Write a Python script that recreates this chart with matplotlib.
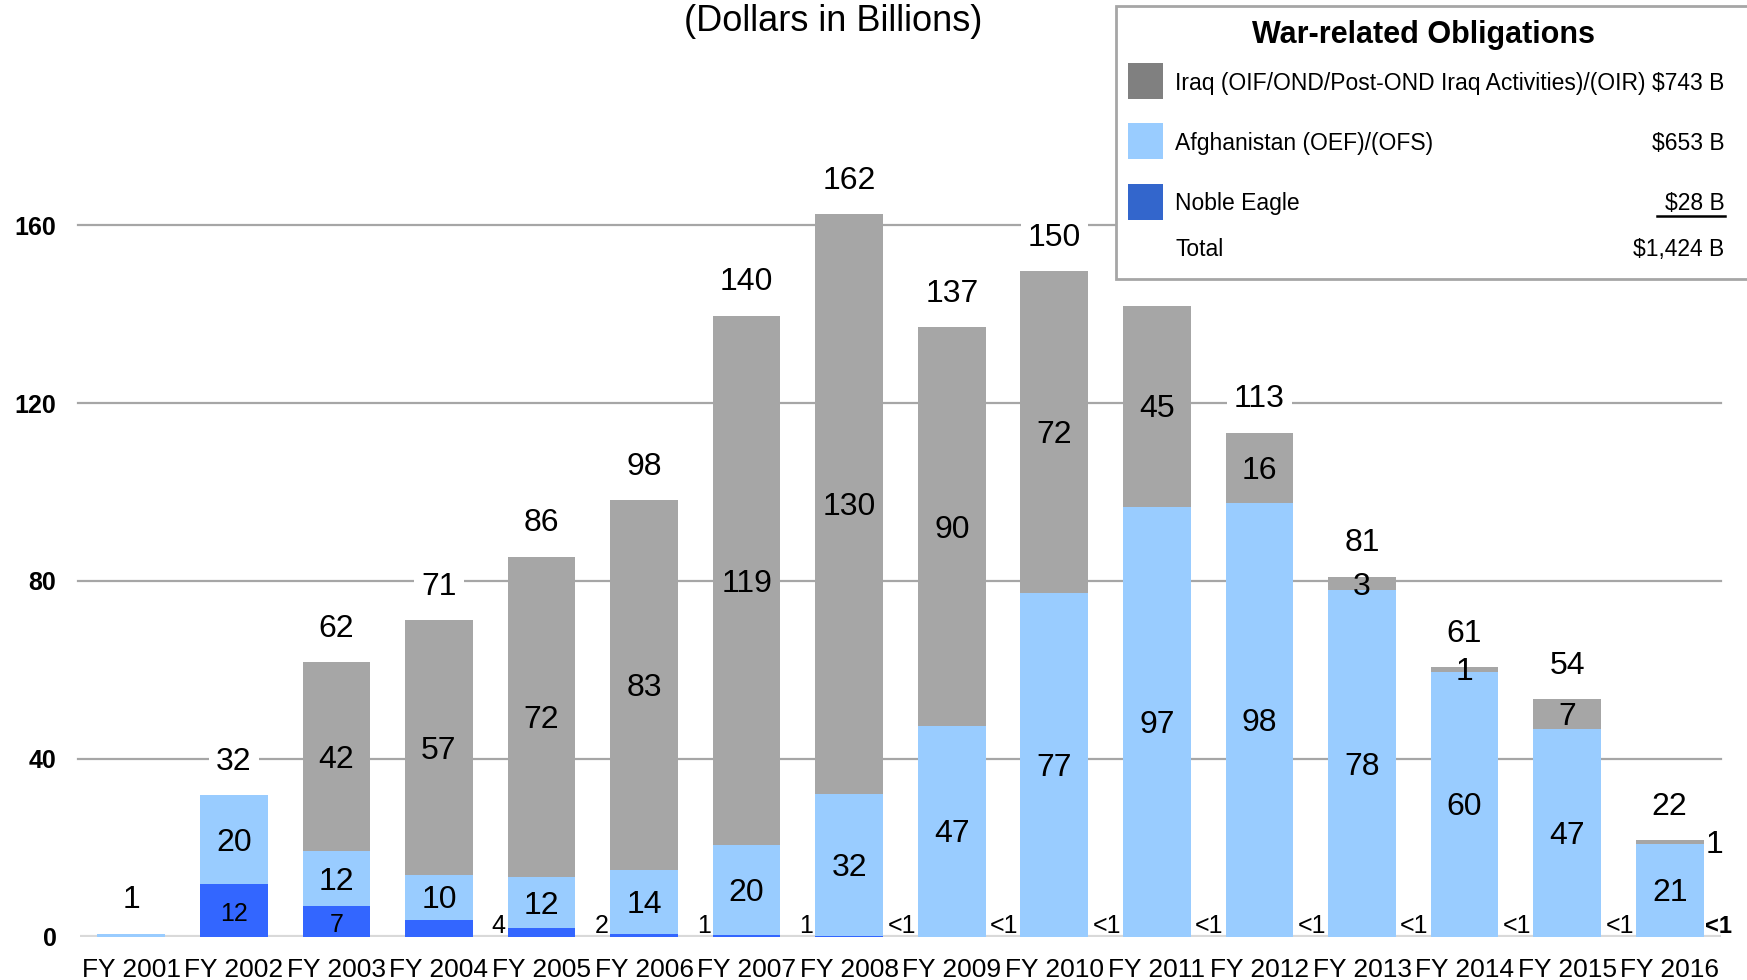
import matplotlib
matplotlib.use("Agg")
import matplotlib.pyplot as plt
from matplotlib import font_manager
from matplotlib.patches import Rectangle
from matplotlib.lines import Line2D
import numpy as np

# -----------------------
# data (dollars in billions)
years = ['FY 2001', 'FY 2002', 'FY 2003', 'FY 2004', 'FY 2005', 'FY 2006', 'FY 2007', 'FY 2008',
         'FY 2009', 'FY 2010', 'FY 2011', 'FY 2012', 'FY 2013', 'FY 2014', 'FY 2015', 'FY 2016']
noble_eagle = [0.0, 11.9, 7.0, 3.8, 2.0, 0.7, 0.5, 0.2, 0.1, 0.1, 0.1, 0.1, 0.1, 0.1, 0.1, 0.1]
afghanistan = [0.7, 19.9, 12.3, 10.2, 11.5, 14.3, 20.1, 31.9, 47.3, 77.1, 96.6, 97.4, 77.8, 59.5, 46.6, 20.8]
iraq = [0.0, 0.0, 42.4, 57.2, 72.0, 83.2, 119.0, 130.3, 89.7, 72.4, 45.2, 15.8, 3.1, 1.1, 6.8, 0.9]

total_labels = ['1', '32', '62', '71', '86', '98', '140', '162', '137', '150', '', '113', '81', '61', '54', '22']
ne_labels = ['', '12', '7', '4', '2', '1', '1', '<1', '<1', '<1', '<1', '<1', '<1', '<1', '<1', '<1']
afg_labels = ['', '20', '12', '10', '12', '14', '20', '32', '47', '77', '97', '98', '78', '60', '47', '21']
iraq_labels = ['', '', '42', '57', '72', '83', '119', '130', '90', '72', '45', '16', '3', '1', '7', '1']

legend_names = ['Iraq (OIF/OND/Post-OND Iraq Activities)/(OIR)', 'Afghanistan (OEF)/(OFS)', 'Noble Eagle']
legend_values = ['$743 B', '$653 B', '$28 B']
total_value = '$1,424 B'
# -----------------------

c_ne = '#3366FF'
c_afg = '#99CCFF'
c_iraq = '#A6A6A6'
leg_colors = ['#808080', '#99CCFF', '#3366CC']

names = {f.name for f in font_manager.fontManager.ttflist}
narrow = 'Liberation Sans Narrow' if 'Liberation Sans Narrow' in names else 'Liberation Sans'
leg_size = 20 if narrow == 'Liberation Sans Narrow' else 16.5
plt.rcParams['font.family'] = ['Liberation Sans', 'DejaVu Sans']

fig = plt.figure(figsize=(17.47, 9.80), dpi=100)
ax = fig.add_axes([0.0458, 0.0439, 0.9393, 0.8173])

x = np.arange(len(years))
ne = np.array(noble_eagle)
af = np.array(afghanistan)
iq = np.array(iraq)
w = 0.66

ax.bar(x, ne, width=w, color=c_ne, zorder=2)
ax.bar(x, af, width=w, bottom=ne, color=c_afg, zorder=2)
ax.bar(x, iq, width=w, bottom=ne + af, color=c_iraq, zorder=2)

ax.set_xlim(-0.5, 15.5)
ax.set_ylim(0, 180)
ax.set_yticks([0, 40, 80, 120, 160])
ax.set_yticklabels(['0', '40', '80', '120', '160'], fontsize=18, fontweight='bold')
ax.set_xticks(x)
ax.set_xticklabels(years, fontsize=19)
ax.tick_params(axis='y', length=0, pad=17)
ax.tick_params(axis='x', length=0, pad=15)
for s in ax.spines.values():
    s.set_visible(False)
for g in [40, 80, 120, 160]:
    ax.plot([-0.52, 15.5], [g, g], color='#A6A6A6', lw=1.6, zorder=1, clip_on=False)
ax.axhline(0, color='#D9D9D9', lw=3, zorder=1)

dy = -0.7  # nudge for text box centring
tops = ne + af + iq
for i in range(len(years)):
    # totals on top
    if total_labels[i]:
        ax.text(x[i], tops[i] + 7.5, total_labels[i], ha='center', va='center', fontsize=23,
                bbox=dict(facecolor='white', edgecolor='none', pad=5), zorder=3)
    # afghanistan
    if afg_labels[i]:
        ax.text(x[i], ne[i] + af[i] / 2 + dy, afg_labels[i], ha='center', va='center', fontsize=23, zorder=4)
    # iraq
    if iraq_labels[i]:
        if i == len(years) - 1:
            ax.text(x[i] + w / 2 + 0.02, ne[i] + af[i] + iq[i] / 2 - 0.6, iraq_labels[i],
                    ha='left', va='center', fontsize=23, zorder=4, clip_on=False)
        else:
            ax.text(x[i], ne[i] + af[i] + iq[i] / 2 + dy, iraq_labels[i], ha='center', va='center',
                    fontsize=23, zorder=4)
    # noble eagle
    if ne_labels[i]:
        if ne[i] > 6:
            ax.text(x[i], ne[i] / 2 + dy, ne_labels[i], ha='center', va='center', fontsize=18, zorder=4)
        elif i == len(years) - 1:
            ax.text(x[i] + w / 2 + 0.01, 1.0, ne_labels[i], ha='left', va='baseline', fontsize=17,
                    fontweight='bold', zorder=4, clip_on=False)
        else:
            ax.text(x[i] + 1 - w / 2 - 0.02, 1.0, ne_labels[i], ha='right', va='baseline',
                    fontsize=18, zorder=4)

fig.text(0.477, 0.978, '(Dollars in Billions)', ha='center', va='center', fontsize=26)

# legend box
fig.patches.append(Rectangle((0.639, 0.715), 0.38, 0.279, transform=fig.transFigure,
                             facecolor='white', edgecolor='#A6A6A6', lw=2, zorder=10))
fig.text(0.815, 0.964, 'War-related Obligations', ha='center', va='center', fontsize=22,
         fontweight='bold', zorder=11)
row_y = [0.915, 0.854, 0.792]
for name, val, col, yy in zip(legend_names, legend_values, leg_colors, row_y):
    fig.patches.append(Rectangle((0.6457, yy - 0.0165), 0.02, 0.037, transform=fig.transFigure,
                                 facecolor=col, edgecolor='none', zorder=11))
    fig.text(0.6726, yy, name, ha='left', va='center', fontsize=leg_size, family=narrow, zorder=11)
    fig.text(0.987, yy, val, ha='right', va='center', fontsize=leg_size, family=narrow, zorder=11)
fig.lines.append(Line2D([0.9485, 0.9875], [0.7795, 0.7795], transform=fig.transFigure,
                        color='black', lw=1.8, zorder=11))
fig.text(0.6726, 0.745, 'Total', ha='left', va='center', fontsize=leg_size, family=narrow, zorder=11)
fig.text(0.987, 0.745, total_value, ha='right', va='center', fontsize=leg_size, family=narrow, zorder=11)

fig.savefig('out.png', dpi=100)
